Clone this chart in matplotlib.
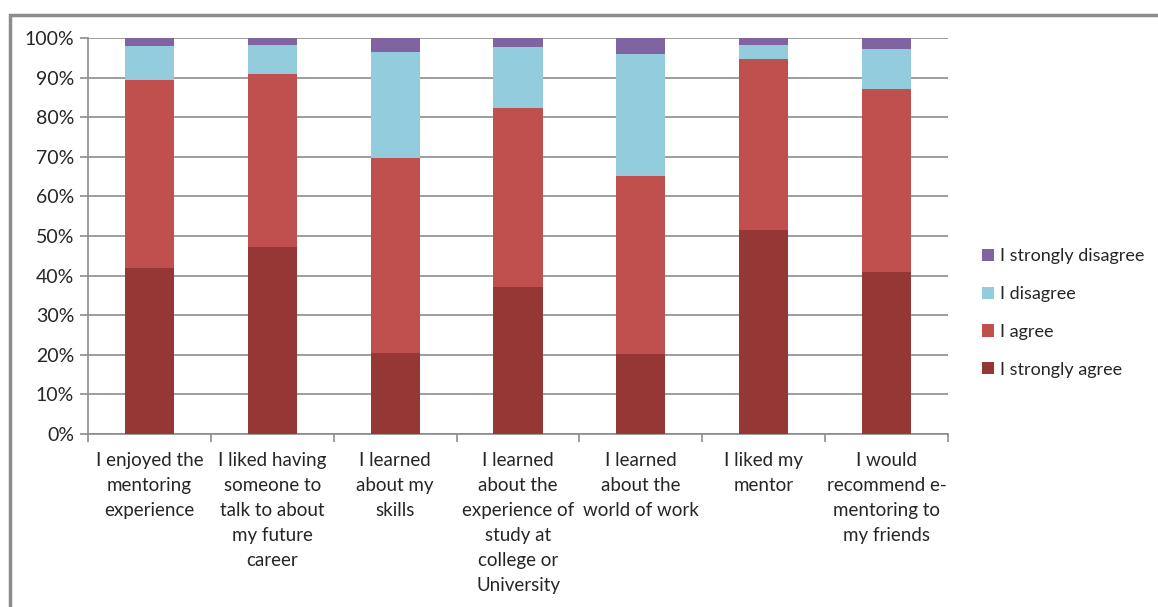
import numpy as np
import matplotlib
matplotlib.use("Agg")
import matplotlib.pyplot as plt
from matplotlib.patches import Rectangle
from matplotlib.ticker import PercentFormatter

plt.rcParams['font.family'] = ['Lato', 'DejaVu Sans']

kategorie = [
    "I enjoyed the\nmentoring\nexperience",
    "I liked having\nsomeone to\ntalk to about\nmy future\ncareer",
    "I learned\nabout my\nskills",
    "I learned\nabout the\nexperience of\nstudy at\ncollege or\nUniversity",
    "I learned\nabout the\nworld of work",
    "I liked my\nmentor",
    "I would\nrecommend e-\nmentoring to\nmy friends",
]

# odsetki odpowiedzi w każdej kategorii
zdecydowanie_zgadzam = [41.9, 47.2, 20.5, 37.1, 20.2, 51.6, 40.9]
zgadzam = [47.5, 43.7, 49.2, 45.2, 45.0, 43.0, 46.2]
nie_zgadzam = [8.5, 7.4, 26.8, 15.5, 30.7, 3.6, 10.0]
zdecydowanie_nie = [2.1, 1.7, 3.5, 2.2, 4.1, 1.8, 2.9]

serie = [
    ("I strongly agree", zdecydowanie_zgadzam, "#953735"),
    ("I agree", zgadzam, "#C0504D"),
    ("I disagree", nie_zgadzam, "#93CDDD"),
    ("I strongly disagree", zdecydowanie_nie, "#8064A2"),
]

W, H = 1158, 607
fig = plt.figure(figsize=(W / 100, H / 100), dpi=100)
ax = fig.add_axes([88 / W, 1 - 434 / H, (948 - 88) / W, (434 - 38) / H])

x = np.arange(len(kategorie))
dol = np.zeros(len(kategorie))
uchwyty = []
for nazwa, wartosci, kolor in serie:
    wartosci = np.array(wartosci)
    b = ax.bar(x, wartosci, bottom=dol, width=0.4, color=kolor, label=nazwa, zorder=3)
    uchwyty.append(b)
    dol += wartosci

ax.set_xlim(-0.5, len(kategorie) - 0.5)
ax.set_ylim(0, 100)
ax.set_yticks(np.arange(0, 101, 10))
ax.yaxis.set_major_formatter(PercentFormatter(decimals=0))
ax.grid(axis='y', color='#8c8c8c', linewidth=1.2, zorder=0)

ax.set_xticks(x)
ax.set_xticklabels(kategorie, fontsize=13.5, color='#262626', linespacing=1.57)
ax.set_xticks(np.arange(-0.5, len(kategorie)), minor=True)
ax.tick_params(axis='x', which='major', length=0, pad=13)
ax.tick_params(axis='x', which='minor', length=6, color='#8c8c8c', width=1.2)
ax.tick_params(axis='y', length=6, color='#8c8c8c', width=1.2, labelsize=14,
               labelcolor='#262626', pad=4)

for s in ['top', 'right']:
    ax.spines[s].set_visible(False)
for s in ['left', 'bottom']:
    ax.spines[s].set_color('#8c8c8c')
    ax.spines[s].set_linewidth(1.2)

# legenda w odwrotnej kolejności (od góry: strongly disagree)
leg = fig.legend(uchwyty[::-1], [s[0] for s in serie][::-1],
                 loc='center left', bbox_to_anchor=(966 / W, 1 - 313 / H),
                 frameon=False, fontsize=13, handlelength=0.65, handleheight=0.65,
                 handletextpad=0.35, labelspacing=1.2, labelcolor='#262626')

# ramka obszaru wykresu
fig.patches.append(Rectangle((10 / W, -0.1), 1.1, 1 - 15 / H + 0.1,
                             transform=fig.transFigure, fill=False,
                             edgecolor='#8c8c8c', linewidth=2.5))

fig.savefig("out.png", dpi=100)
